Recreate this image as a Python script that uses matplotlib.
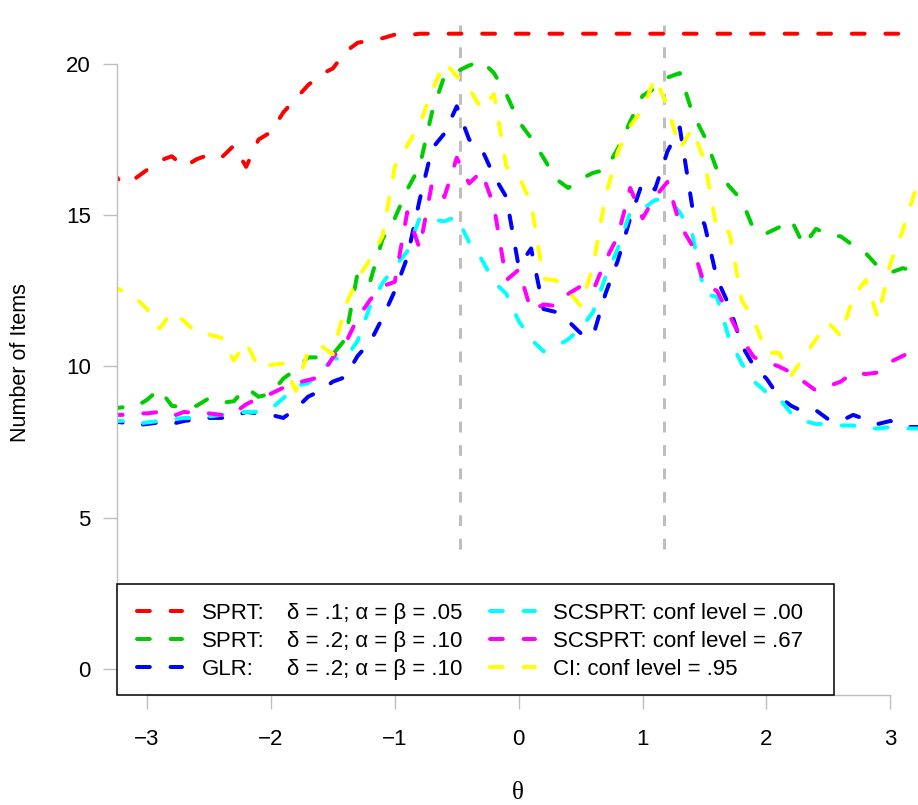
import matplotlib
matplotlib.use('Agg')
import matplotlib.pyplot as plt
from matplotlib.patches import Rectangle

plt.rcParams['font.family'] = ['Liberation Sans', 'DejaVu Sans']

# ability grid
theta = [-3.3, -3.2, -3.1, -3.0, -2.9, -2.8, -2.7, -2.6, -2.5, -2.4, -2.3, -2.2,
         -2.1, -2.0, -1.9, -1.8, -1.7, -1.6, -1.5, -1.4, -1.3, -1.2, -1.1, -1.0,
         -0.9, -0.8, -0.7, -0.6, -0.5, -0.4, -0.3, -0.2, -0.1, 0.0, 0.1, 0.2,
         0.3, 0.4, 0.5, 0.6, 0.7, 0.8, 0.9, 1.0, 1.1, 1.2, 1.3, 1.4,
         1.5, 1.6, 1.7, 1.8, 1.9, 2.0, 2.1, 2.2, 2.3, 2.4, 2.5, 2.6,
         2.7, 2.8, 2.9, 3.0, 3.1, 3.2, 3.3]

sprt_1 = [16.5, 16.05, 16.2, 16.5, 16.8, 16.95, 16.6, 16.85, 17.0, 16.9, 17.3, 16.6,
          17.5, 17.75, 18.4, 18.85, 19.3, 19.65, 19.85, 20.4, 20.7, 20.78, 20.85, 20.97,
          20.95, 21, 21, 21, 21, 21, 21, 21, 21, 21, 21, 21,
          21, 21, 21, 21, 21, 21, 21, 21, 21, 21, 21, 21,
          21, 21, 21, 21, 21, 21, 21, 21, 21, 21, 21, 21,
          21, 21, 21, 21, 21, 21, 21]
sprt_2 = [8.6, 8.65, 8.65, 8.9, 9.25, 8.7, 8.65, 8.7, 8.95, 8.8, 8.85, 9.3,
          9.0, 9.1, 9.6, 9.9, 10.3, 10.3, 10.4, 10.9, 13.1, 12.8, 14.2, 14.9,
          15.85, 16.6, 18.4, 19.6, 19.75, 19.95, 20.1, 19.7, 19.0, 18.1, 17.55, 16.9,
          16.2, 15.9, 16.2, 16.4, 16.5, 17.2, 18.1, 18.95, 19.2, 19.55, 19.7, 18.4,
          17.6, 16.5, 15.95, 15.5, 14.5, 14.4, 14.6, 14.85, 14.0, 14.55, 14.35, 14.3,
          14.0, 13.75, 13.3, 13.1, 13.25, 13.15, 13.2]
glr = [8.2, 8.15, 8.05, 8.1, 8.15, 8.1, 8.2, 8.25, 8.3, 8.3, 8.35, 8.5,
       8.45, 8.4, 8.3, 8.6, 9.0, 9.2, 9.5, 9.65, 10.35, 10.8, 11.6, 12.5,
       13.6, 15.5, 17.2, 17.7, 18.6, 17.5, 17.2, 16.3, 15.6, 13.3, 13.9, 11.9,
       11.8, 11.5, 11.1, 11.0, 12.4, 13.5, 14.9, 16.1, 15.85, 17.1, 17.9, 15.3,
       14.7, 12.9, 12.0, 10.7, 10.0, 9.6, 9.0, 8.7, 8.5, 8.55, 8.25, 8.2,
       8.4, 8.25, 8.1, 8.2, 8.0, 8.0, 8.0]
scsprt_00 = [8.2, 8.2, 8.1, 8.15, 8.2, 8.25, 8.3, 8.3, 8.35, 8.4, 8.45, 8.5,
             8.5, 8.6, 8.95, 9.35, 9.45, 9.8, 10.27, 10.24, 10.85, 12.0, 12.75, 13.3,
             13.8, 14.9, 14.85, 14.8, 14.95, 14.1, 13.55, 12.8, 12.4, 11.5, 10.9, 10.5,
             10.65, 10.9, 11.25, 11.8, 12.95, 13.9, 15.1, 15.2, 15.5, 15.55, 15.1, 14.4,
             12.4, 12.3, 10.9, 10.1, 9.5, 9.15, 8.95, 8.45, 8.2, 8.1, 8.1, 8.05,
             8.05, 7.95, 7.95, 8.0, 7.95, 7.95, 7.95]
scsprt_67 = [8.4, 8.4, 8.45, 8.45, 8.5, 8.35, 8.5, 8.45, 8.45, 8.4, 8.45, 8.75,
             8.95, 9.1, 9.3, 9.45, 9.55, 9.65, 10.3, 10.75, 11.6, 12.2, 12.65, 12.8,
             15.1, 13.9, 16.05, 15.6, 16.9, 16.05, 16.45, 15.3, 12.85, 13.2, 11.85, 12.05,
             12.0, 12.4, 12.65, 12.5, 13.5, 14.3, 15.9, 14.9, 15.6, 16.1, 14.7, 14.0,
             12.7, 12.5, 11.7, 10.9, 10.3, 10.15, 10.0, 9.8, 9.5, 9.2, 9.35, 9.5,
             9.8, 9.75, 9.8, 10.15, 10.35, 10.55, 10.7]
ci_95 = [12.7, 12.5, 12.3, 11.9, 11.25, 11.8, 11.5, 11.1, 11.05, 10.95, 10.2, 10.8,
         9.95, 10.05, 10.1, 9.2, 10.5, 10.7, 10.4, 12.0, 12.9, 13.55, 14.3, 16.6,
         17.3, 18.0, 19.1, 20.05, 19.6, 19.2, 18.5, 19.0, 16.6, 16.3, 15.4, 12.9,
         12.85, 12.5, 12.0, 13.3, 15.6, 17.1, 17.95, 18.5, 19.55, 18.6, 17.2, 17.85,
         16.8, 14.5, 14.45, 12.2, 11.5, 10.45, 10.45, 9.7, 10.3, 10.9, 11.45, 11.0,
         12.3, 12.85, 11.6, 13.4, 14.5, 15.8, 17.0]

series = [sprt_1, sprt_2, glr, scsprt_00, scsprt_67, ci_95]
colors = ['#FF0000', '#00CD00', '#0000FF', '#00FFFF', '#FF00FF', '#FFFF00']
names = ['SPRT:', 'SPRT:', 'GLR:']
params = ['δ = .1; α = β = .05', 'δ = .2; α = β = .10', 'δ = .2; α = β = .10']
names2 = ['SCSPRT: conf level = .00', 'SCSPRT: conf level = .67', 'CI: conf level = .95']
cutpoints = [-0.47, 1.175]

W, H = 918, 805
L, R, B, T = 117.3, 918.0, 695.3, 8.3   # plot region in pixels
fig = plt.figure(figsize=(W / 100, H / 100), dpi=100)
ax = fig.add_axes([L / W, 1 - B / H, (R - L) / W, (B - T) / H])
ax.set_xlim(-3.24, 3.223)
ax.set_ylim(-0.869, 21.84)

def fx(px):
    return (px - L) / (R - L)

def fy(py):
    return (B - py) / (B - T)

for c in cutpoints:
    ax.plot([c, c], [3.97, 21.3], color='#BEBEBE', lw=2.16, dashes=(3.6, 4.2),
            dash_capstyle='butt', zorder=1)

for y, col in zip(series, colors):
    ax.plot(theta, y, color=col, lw=2.88, dashes=(3.2, 5.2), dash_capstyle='round', zorder=2)

for s in ['top', 'right']:
    ax.spines[s].set_visible(False)
for s in ['left', 'bottom']:
    ax.spines[s].set_color('#BEBEBE')
    ax.spines[s].set_linewidth(1.0)
ax.spines['left'].set_bounds(0, 20)
ax.spines['bottom'].set_bounds(-3, 3)
ax.set_xticks([-3, -2, -1, 0, 1, 2, 3])
ax.set_yticks([0, 5, 10, 15, 20])
ax.tick_params(color='#BEBEBE', labelcolor='black', length=10, width=1.0, labelsize=16)
ax.tick_params(axis='x', pad=14)
ax.tick_params(axis='y', pad=9)

fig.text(21 / W, 1 - 363 / H, 'Number of Items', rotation=90, ha='center', va='center', fontsize=15.5)
fig.text(518 / W, 1 - 793 / H, 'θ', ha='center', va='center', fontsize=18,
         family=['Liberation Serif', 'DejaVu Serif'])

# legend box
ax.add_patch(Rectangle((fx(117.3), fy(695.3)), fx(833.7) - fx(117.3), fy(584) - fy(695.3),
                       transform=ax.transAxes, fc='white', ec='black', lw=1.1,
                       zorder=5, clip_on=False))
for i in range(3):
    yc = 610.7 + 28.3 * i
    ax.plot([fx(136.7), fx(181.7)], [fy(yc), fy(yc)], transform=ax.transAxes,
            color=colors[i], lw=2.88, dashes=(3.2, 5.2), dash_capstyle='round',
            zorder=6, clip_on=False)
    ax.plot([fx(489.5), fx(534.5)], [fy(yc), fy(yc)], transform=ax.transAxes,
            color=colors[i + 3], lw=2.88, dashes=(3.2, 5.2), dash_capstyle='round',
            zorder=6, clip_on=False)
    ax.text(fx(201.7), fy(yc + 7.8), names[i], transform=ax.transAxes,
            fontsize=16, va='baseline', zorder=7)
    ax.text(fx(286.7), fy(yc + 7.8), params[i], transform=ax.transAxes,
            fontsize=16, va='baseline', zorder=7)
    ax.text(fx(553), fy(yc + 7.8), names2[i], transform=ax.transAxes,
            fontsize=16, va='baseline', zorder=7)

fig.savefig('out.png', dpi=100)
